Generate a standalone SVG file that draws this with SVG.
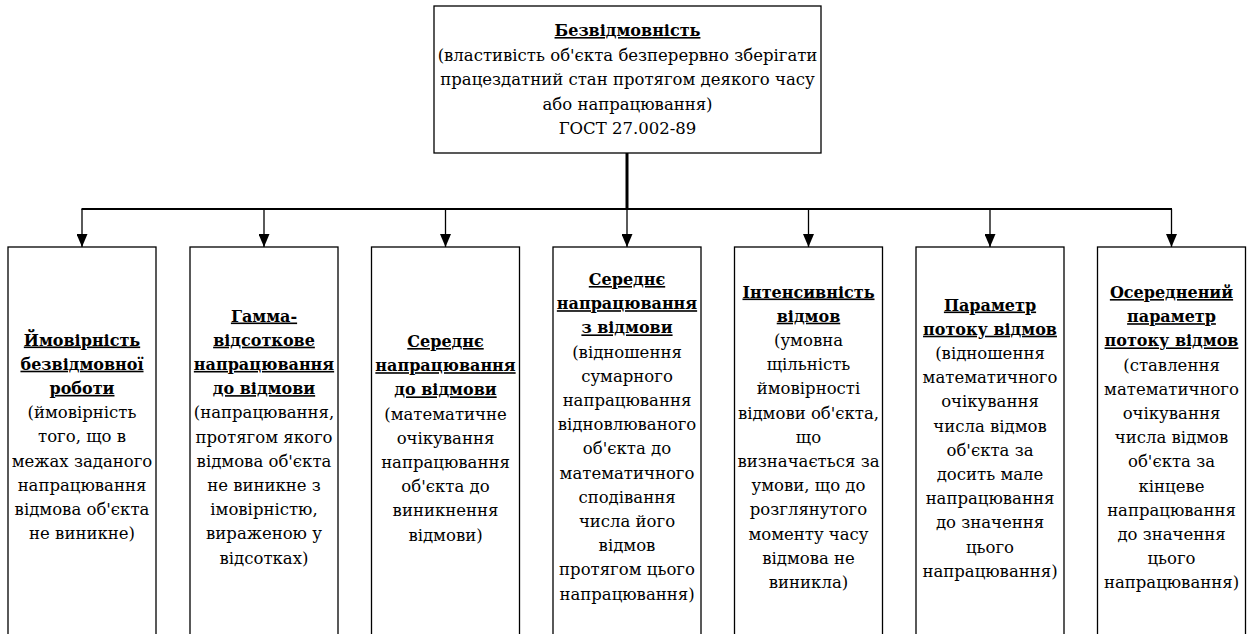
<svg xmlns="http://www.w3.org/2000/svg" width="1251" height="634" viewBox="0 0 1251 634">
<defs>
<style>
.box{fill:#fff;stroke:#000;stroke-width:1.3}
.t{font-family:"DejaVu Serif","Liberation Serif",serif;font-size:16.5px;text-anchor:middle;fill:#000}
.b{font-weight:bold;font-size:16px;text-decoration:underline}
.ln{stroke:#000;fill:none}
</style>
<marker id="ah" viewBox="0 0 13 11" refX="13" refY="5.5" markerWidth="13" markerHeight="11" markerUnits="userSpaceOnUse" orient="auto"><path d="M0,0 L13,5.5 L0,11 z" fill="#000"/></marker>
</defs>
<rect width="1251" height="634" fill="#fff"/>
<g id="connectors">
<line class="ln" x1="627" y1="153" x2="627" y2="209" stroke-width="3"/>
<line class="ln" x1="81.5" y1="209" x2="1172" y2="209" stroke-width="2"/>
<line class="ln" x1="82" y1="209" x2="82" y2="247" stroke-width="1.3" marker-end="url(#ah)"/>
<line class="ln" x1="264" y1="209" x2="264" y2="247" stroke-width="1.3" marker-end="url(#ah)"/>
<line class="ln" x1="445.5" y1="209" x2="445.5" y2="247" stroke-width="1.3" marker-end="url(#ah)"/>
<line class="ln" x1="627" y1="209" x2="627" y2="247" stroke-width="1.3" marker-end="url(#ah)"/>
<line class="ln" x1="808.5" y1="209" x2="808.5" y2="247" stroke-width="1.3" marker-end="url(#ah)"/>
<line class="ln" x1="990" y1="209" x2="990" y2="247" stroke-width="1.3" marker-end="url(#ah)"/>
<line class="ln" x1="1171.5" y1="209" x2="1171.5" y2="247" stroke-width="1.3" marker-end="url(#ah)"/>
</g>
<g id="root">
<rect class="box" x="434" y="6" width="387" height="147"/>
<text class="t" x="627.5" y="36"><tspan class="b">Безвідмовність</tspan><tspan x="627.5" dy="24.5">(властивість об'єкта безперервно зберігати</tspan><tspan x="627.5" dy="24.5">працездатний стан протягом деякого часу</tspan><tspan x="627.5" dy="24.5">або напрацювання)</tspan><tspan x="627.5" dy="24.5">ГОСТ 27.002-89</tspan></text>
</g>
<g id="n1">
<rect class="box" x="8" y="247" width="148" height="400"/>
<text class="t" x="82" y="345.5"><tspan class="b">Ймовірність</tspan><tspan class="b" x="82" dy="24.2">безвідмовної</tspan><tspan class="b" x="82" dy="24.2">роботи</tspan><tspan x="82" dy="24.2">(ймовірність</tspan><tspan x="82" dy="24.2">того, що в</tspan><tspan x="82" dy="24.2">межах заданого</tspan><tspan x="82" dy="24.2">напрацювання</tspan><tspan x="82" dy="24.2">відмова об'єкта</tspan><tspan x="82" dy="24.2">не виникне)</tspan></text>
</g>
<g id="n2">
<rect class="box" x="190" y="247" width="148" height="400"/>
<text class="t" x="264" y="321.5"><tspan class="b">Гамма-</tspan><tspan class="b" x="264" dy="24.2">відсоткове</tspan><tspan class="b" x="264" dy="24.2">напрацювання</tspan><tspan class="b" x="264" dy="24.2">до відмови</tspan><tspan x="264" dy="24.2">(напрацювання,</tspan><tspan x="264" dy="24.2">протягом якого</tspan><tspan x="264" dy="24.2">відмова об'єкта</tspan><tspan x="264" dy="24.2">не виникне з</tspan><tspan x="264" dy="24.2">імовірністю,</tspan><tspan x="264" dy="24.2">вираженою у</tspan><tspan x="264" dy="24.2">відсотках)</tspan></text>
</g>
<g id="n3">
<rect class="box" x="371.5" y="247" width="148" height="400"/>
<text class="t" x="445.5" y="347"><tspan class="b">Середнє</tspan><tspan class="b" x="445.5" dy="24.2">напрацювання</tspan><tspan class="b" x="445.5" dy="24.2">до відмови</tspan><tspan x="445.5" dy="24.2">(математичне</tspan><tspan x="445.5" dy="24.2">очікування</tspan><tspan x="445.5" dy="24.2">напрацювання</tspan><tspan x="445.5" dy="24.2">об'єкта до</tspan><tspan x="445.5" dy="24.2">виникнення</tspan><tspan x="445.5" dy="24.2">відмови)</tspan></text>
</g>
<g id="n4">
<rect class="box" x="553" y="247" width="148" height="400"/>
<text class="t" x="627" y="285"><tspan class="b">Середнє</tspan><tspan class="b" x="627" dy="24.2">напрацювання</tspan><tspan class="b" x="627" dy="24.2">з відмови</tspan><tspan x="627" dy="24.2">(відношення</tspan><tspan x="627" dy="24.2">сумарного</tspan><tspan x="627" dy="24.2">напрацювання</tspan><tspan x="627" dy="24.2">відновлюваного</tspan><tspan x="627" dy="24.2">об'єкта до</tspan><tspan x="627" dy="24.2">математичного</tspan><tspan x="627" dy="24.2">сподівання</tspan><tspan x="627" dy="24.2">числа його</tspan><tspan x="627" dy="24.2">відмов</tspan><tspan x="627" dy="24.2">протягом цього</tspan><tspan x="627" dy="24.2">напрацювання)</tspan></text>
</g>
<g id="n5">
<rect class="box" x="734.5" y="247" width="148" height="400"/>
<text class="t" x="808.5" y="297.5"><tspan class="b">Інтенсивність</tspan><tspan class="b" x="808.5" dy="24.2">відмов</tspan><tspan x="808.5" dy="24.2">(умовна</tspan><tspan x="808.5" dy="24.2">щільність</tspan><tspan x="808.5" dy="24.2">ймовірності</tspan><tspan x="808.5" dy="24.2">відмови об'єкта,</tspan><tspan x="808.5" dy="24.2">що</tspan><tspan x="808.5" dy="24.2">визначається за</tspan><tspan x="808.5" dy="24.2">умови, що до</tspan><tspan x="808.5" dy="24.2">розглянутого</tspan><tspan x="808.5" dy="24.2">моменту часу</tspan><tspan x="808.5" dy="24.2">відмова не</tspan><tspan x="808.5" dy="24.2">виникла)</tspan></text>
</g>
<g id="n6">
<rect class="box" x="916" y="247" width="148" height="400"/>
<text class="t" x="990" y="310.5"><tspan class="b">Параметр</tspan><tspan class="b" x="990" dy="24.2">потоку відмов</tspan><tspan x="990" dy="24.2">(відношення</tspan><tspan x="990" dy="24.2">математичного</tspan><tspan x="990" dy="24.2">очікування</tspan><tspan x="990" dy="24.2">числа відмов</tspan><tspan x="990" dy="24.2">об'єкта за</tspan><tspan x="990" dy="24.2">досить мале</tspan><tspan x="990" dy="24.2">напрацювання</tspan><tspan x="990" dy="24.2">до значення</tspan><tspan x="990" dy="24.2">цього</tspan><tspan x="990" dy="24.2">напрацювання)</tspan></text>
</g>
<g id="n7">
<rect class="box" x="1097.5" y="247" width="148" height="400"/>
<text class="t" x="1171.5" y="298"><tspan class="b">Осереднений</tspan><tspan class="b" x="1171.5" dy="24.2">параметр</tspan><tspan class="b" x="1171.5" dy="24.2">потоку відмов</tspan><tspan x="1171.5" dy="24.2">(ставлення</tspan><tspan x="1171.5" dy="24.2">математичного</tspan><tspan x="1171.5" dy="24.2">очікування</tspan><tspan x="1171.5" dy="24.2">числа відмов</tspan><tspan x="1171.5" dy="24.2">об'єкта за</tspan><tspan x="1171.5" dy="24.2">кінцеве</tspan><tspan x="1171.5" dy="24.2">напрацювання</tspan><tspan x="1171.5" dy="24.2">до значення</tspan><tspan x="1171.5" dy="24.2">цього</tspan><tspan x="1171.5" dy="24.2">напрацювання)</tspan></text>
</g>
</svg>
